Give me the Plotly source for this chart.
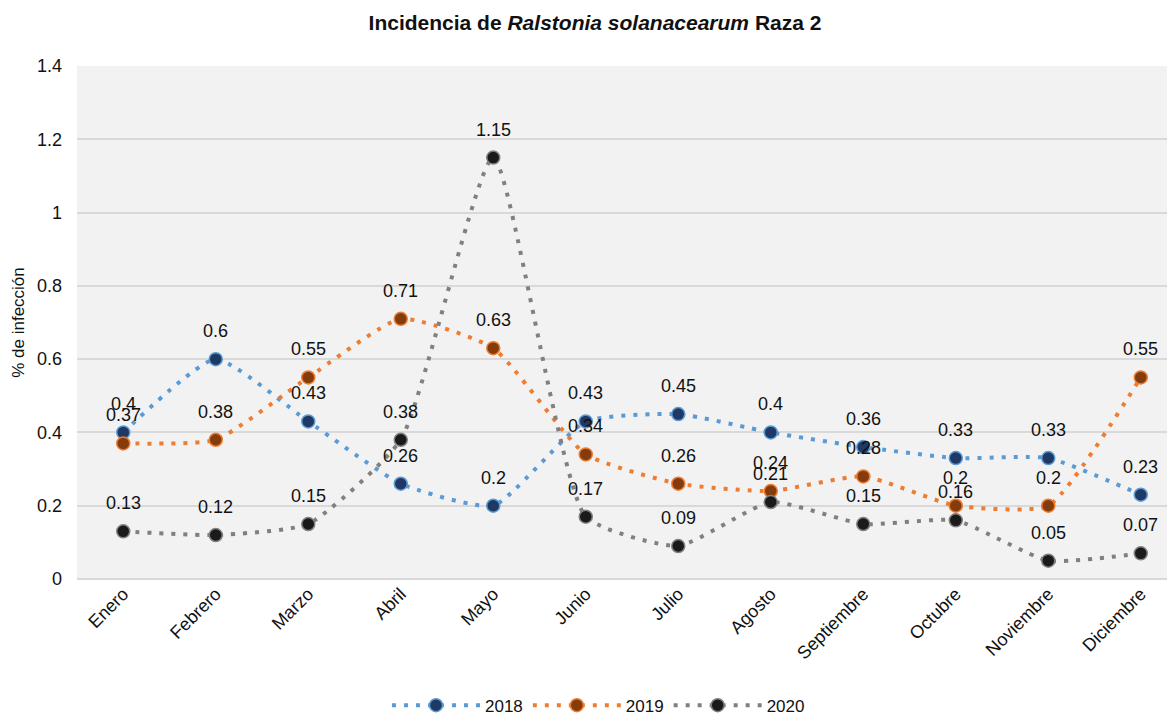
import plotly.graph_objects as go

months = ["Enero", "Febrero", "Marzo", "Abril", "Mayo", "Junio", "Julio",
          "Agosto", "Septiembre", "Octubre", "Noviembre", "Diciembre"]
s2018 = [0.4, 0.6, 0.43, 0.26, 0.2, 0.43, 0.45, 0.4, 0.36, 0.33, 0.33, 0.23]
s2019 = [0.37, 0.38, 0.55, 0.71, 0.63, 0.34, 0.26, 0.24, 0.28, 0.2, 0.2, 0.55]
s2020 = [0.13, 0.12, 0.15, 0.38, 1.15, 0.17, 0.09, 0.21, 0.15, 0.16, 0.05, 0.07]

series = [
    ("2018", s2018, "#5B9BD5", "#1F3864"),
    ("2019", s2019, "#ED7D31", "#843C0C"),
    ("2020", s2020, "#808080", "#1A1A1A"),
]

FONT = "Liberation Sans, Arial, sans-serif"
fig = go.Figure()
for name, vals, lc, mc in series:
    fig.add_trace(go.Scatter(
        x=months, y=vals, name=name, mode="lines+markers",
        line=dict(color=lc, width=4, dash="4px,8px", shape="spline", smoothing=0.5),
        marker=dict(size=13, color=mc, line=dict(color=lc, width=1.5)),
    ))

for name, vals, lc, mc in series:
    for m, v in zip(months, vals):
        fig.add_annotation(x=m, y=v, text=f"{v:g}", showarrow=False,
                           yshift=28, font=dict(family=FONT, size=18, color="#111111"))

fig.update_layout(
    width=1167, height=709,
    paper_bgcolor="white", plot_bgcolor="#F2F2F2",
    margin=dict(l=69, r=0, t=58, b=138),
    font=dict(family=FONT, size=17, color="#111111"),
    title=dict(text="Incidencia de <i>Ralstonia solanacearum</i> Raza 2",
               x=0.503, xanchor="center", y=0.980, yanchor="middle",
               font=dict(family=FONT, size=21, color="#111111", weight="bold")),
    xaxis=dict(range=[-0.5, 11.37], tickangle=-45, showgrid=False,
               showline=False, ticks="", tickfont=dict(size=18)),
    yaxis=dict(range=[0, 1.4], dtick=0.2, gridcolor="#D9D9D9", gridwidth=1.5,
               zeroline=True, zerolinecolor="#D9D9D9", zerolinewidth=2,
               showline=False, ticks="", ticklabelstandoff=14,
               tickfont=dict(size=18),
               title=dict(text="% de infección", font=dict(size=17), standoff=8)),
    legend=dict(orientation="h", x=0.506, xref="container", xanchor="center",
                y=0.016, yref="container", yanchor="middle",
                itemwidth=88, font=dict(size=17), bgcolor="rgba(0,0,0,0)"),
)

fig.write_html("out.html")
